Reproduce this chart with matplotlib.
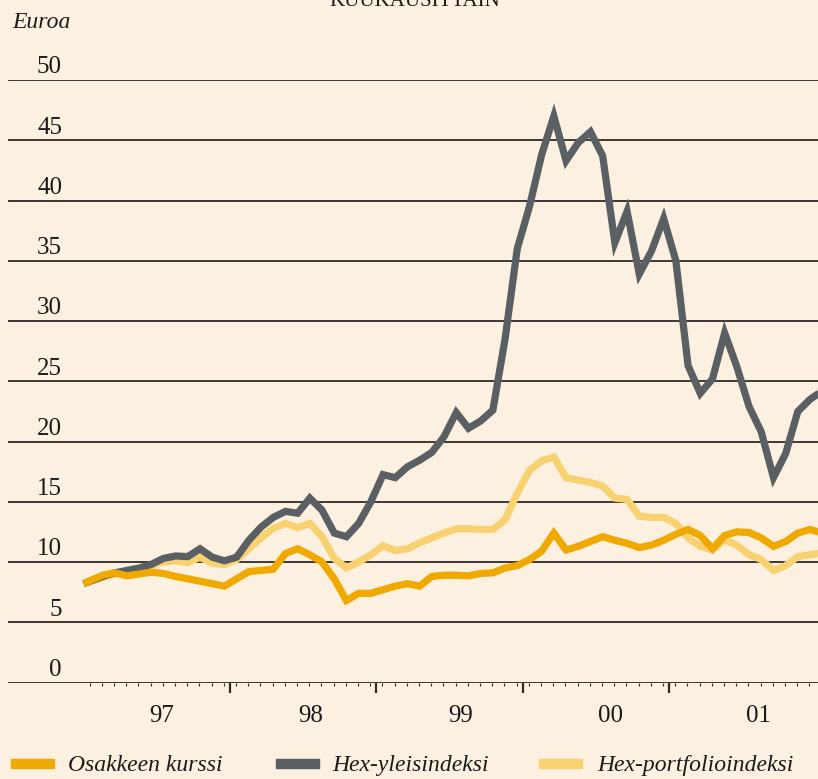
import numpy as np
import matplotlib
matplotlib.use("Agg")
import matplotlib.pyplot as plt
from matplotlib.patches import Rectangle
from matplotlib.transforms import blended_transform_factory

plt.rcParams['font.family'] = ['Liberation Serif', 'DejaVu Serif']

# ---------------- data ----------------
# observation positions in months since start of 1997
obs_month = [0.0] + [k + 0.55 for k in range(1, 61)]

osakkeen_kurssi = [8.2, 8.9, 9.1, 8.85, 9.0, 9.15, 9.05, 8.8, 8.6, 8.4, 8.2,
                   8.0, 8.6, 9.2, 9.3, 9.4, 10.7, 11.1, 10.6, 10.0, 8.6,
                   6.8, 7.4, 7.4, 7.7, 8.0, 8.2, 8.0, 8.8, 8.9, 8.9,
                   8.85, 9.05, 9.1, 9.5, 9.7, 10.2, 10.9, 12.4, 11.0, 11.3,
                   11.7, 12.1, 11.8, 11.55, 11.2, 11.4, 11.8, 12.3, 12.7, 12.2,
                   11.1, 12.2, 12.5, 12.45, 12.0, 11.3, 11.7, 12.4, 12.7, 12.4]

hex_yleisindeksi = [8.2, 8.8, 9.1, 9.3, 9.5, 9.8, 10.3, 10.5, 10.45, 11.1, 10.4,
                    10.1, 10.4, 11.8, 12.9, 13.7, 14.2, 14.05, 15.3, 14.3, 12.4,
                    12.1, 13.2, 15.0, 17.25, 17.0, 17.9, 18.45, 19.1, 20.4, 22.4,
                    21.1, 21.7, 22.6, 28.5, 36.0, 39.5, 43.8, 47.0, 43.3, 44.8,
                    45.7, 43.7, 36.5, 39.1, 33.9, 35.8, 38.5, 35.0, 26.3, 24.0,
                    25.2, 29.0, 26.2, 22.9, 20.8, 17.0, 19.0, 22.5, 23.5, 24.2]

hex_portfolioindeksi = [8.2, 8.7, 9.0, 9.2, 9.4, 9.7, 10.0, 10.1, 9.95, 10.4, 9.9,
                        9.8, 10.2, 11.1, 12.0, 12.8, 13.2, 12.85, 13.2, 12.1, 10.3,
                        9.5, 10.0, 10.6, 11.35, 10.95, 11.1, 11.6, 12.0, 12.4, 12.75,
                        12.75, 12.7, 12.7, 13.5, 15.7, 17.6, 18.4, 18.7, 17.0, 16.8,
                        16.6, 16.3, 15.3, 15.2, 13.8, 13.7, 13.7, 13.2, 12.0, 11.3,
                        11.0, 11.85, 11.4, 10.6, 10.2, 9.3, 9.7, 10.45, 10.6, 10.75]

year_labels = ['97', '98', '99', '00', '01']
year_label_pos = [6.4, 18.6, 30.9, 43.2, 55.3]
y_ticks = [0, 5, 10, 15, 20, 25, 30, 35, 40, 45, 50]
series_names = ['Osakkeen kurssi', 'Hex-yleisindeksi', 'Hex-portfolioindeksi']

# ---------------- style ----------------
BG = '#FCF0E1'
GRID = '#2E2A26'
C_OSAKE = '#F0A900'
C_HEX = '#5A5F63'
C_PORT = '#F8D171'

W, H = 818, 779
fig = plt.figure(figsize=(W / 100, H / 100), dpi=100, facecolor=BG)
ax = fig.add_axes([8 / W, 96.5 / H, 810 / W, 602.5 / H])
ax.set_facecolor(BG)
ax.set_xlim(-6.19, 60.2)
ax.set_ylim(0, 50)

for s in ax.spines.values():
    s.set_visible(False)

for v in y_ticks:
    ax.axhline(v, color=GRID, lw=1.3, zorder=1)

ax.set_yticks([])
ax.set_xticks([12, 24, 36, 48])
ax.set_xticklabels([])
ax.set_xticks([k + 0.5 for k in range(0, 60)], minor=True)
ax.tick_params(axis='x', which='major', direction='out', length=7, width=1.6,
               color=GRID)
ax.tick_params(axis='x', which='minor', direction='out', length=2.5, width=0.8,
               color=GRID)

lw = 5.2
ax.plot(obs_month, hex_portfolioindeksi, color=C_PORT, lw=lw, zorder=3,
        solid_joinstyle='miter', solid_capstyle='butt')
ax.plot(obs_month, hex_yleisindeksi, color=C_HEX, lw=lw, zorder=4,
        solid_joinstyle='miter', solid_capstyle='butt')
ax.plot(obs_month, osakkeen_kurssi, color=C_OSAKE, lw=lw, zorder=5,
        solid_joinstyle='miter', solid_capstyle='butt')

# y labels above the gridlines
ty = blended_transform_factory(ax.transAxes, ax.transData)
for v in y_ticks:
    ax.text((62 - 8) / 810, v + 0.55, str(v), transform=ty, ha='right',
            va='baseline', fontsize=18, color='#1A1A1A')

# year labels
tx = blended_transform_factory(ax.transData, ax.transAxes)
for pos, lab in zip(year_label_pos, year_labels):
    ax.text(pos, -40 / 602.5, lab, transform=tx, ha='center',
            va='baseline', fontsize=18, color='#1A1A1A')

# unit label and title (cut by the top edge, as in the source)
fig.text(12 / W, (H - 28) / H, 'Euroa', fontsize=17, style='italic',
         ha='left', va='baseline', color='#1A1A1A')
fig.text(415 / W, (H - 6) / H, 'KUUKAUSITTAIN', fontsize=15, ha='center',
         va='baseline', color='#1A1A1A')

# legend
swatch_x = [11, 276, 539]
text_x = [68, 332, 597]
colors = [C_OSAKE, C_HEX, C_PORT]
for sx, tx_, c, name in zip(swatch_x, text_x, colors, series_names):
    fig.patches.append(Rectangle((sx / W, (H - 768) / H), 43 / W, 9 / H,
                                 transform=fig.transFigure, color=c))
    fig.text(tx_ / W, (H - 771) / H, name, fontsize=17, style='italic',
             ha='left', va='baseline', color='#1A1A1A')

fig.savefig('out.png', dpi=100, facecolor=BG)
